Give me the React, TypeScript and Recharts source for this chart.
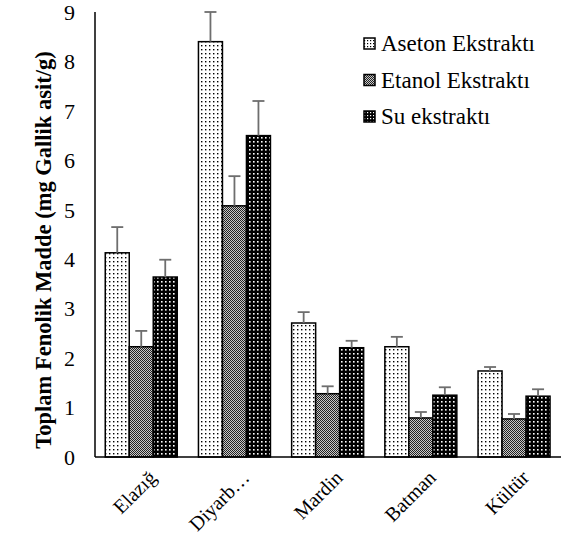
import React from 'react';
import { BarChart, Bar, XAxis, YAxis } from 'recharts';

const categories = ['Elazığ', 'Diyarb…', 'Mardin', 'Batman', 'Kültür'];
const aseton = [4.13, 8.4, 2.71, 2.23, 1.74];
const asetonErr = [0.52, 0.6, 0.22, 0.2, 0.08];
const etanol = [2.23, 5.08, 1.28, 0.79, 0.77];
const etanolErr = [0.32, 0.6, 0.15, 0.12, 0.1];
const su = [3.64, 6.5, 2.21, 1.25, 1.23];
const suErr = [0.35, 0.7, 0.14, 0.16, 0.14];
const yTicks = [0, 1, 2, 3, 4, 5, 6, 7, 8, 9];

const seriesNames = ['Aseton Ekstraktı', 'Etanol Ekstraktı', 'Su ekstraktı'];
const patternIds = ['patAseton', 'patEtanol', 'patSu'];
const legendFills = ['legAseton', 'legEtanol', 'legSu'];

const data = categories.map((c, i) => ({
  name: c,
  aseton: aseton[i],
  asetonErr: asetonErr[i],
  etanol: etanol[i],
  etanolErr: etanolErr[i],
  su: su[i],
  suErr: suErr[i],
}));

const FONT = 'Liberation Serif, Times New Roman, serif';

const makeShape = (errKey: string, valKey: string, patId: string) => (props: any) => {
  const { x, y, width, height, payload } = props;
  const val = payload[valKey];
  const err = payload[errKey];
  const pxPerUnit = val ? height / val : 0;
  const errPx = err * pxPerUnit;
  const cx = x + width / 2;
  return (
    <g>
      <rect x={x} y={y} width={width} height={height} fill={`url(#${patId})`} stroke="#000" strokeWidth={1.5} />
      <line x1={cx} y1={y} x2={cx} y2={y - errPx} stroke="#6e6e6e" strokeWidth={1.8} />
      <line x1={cx - 6} y1={y - errPx} x2={cx + 6} y2={y - errPx} stroke="#6e6e6e" strokeWidth={1.8} />
    </g>
  );
};

const LegendOverlay = () => (
  <svg width={562} height={540} style={{ position: 'absolute', left: 0, top: 0, pointerEvents: 'none' }}>
    <defs>
      <pattern id="legAseton" width="3" height="3" patternUnits="userSpaceOnUse">
        <rect width="3" height="3" fill="#fff" />
        <rect x="1" y="1" width="1.2" height="1.2" fill="#000" />
      </pattern>
      <pattern id="legEtanol" width="2" height="2" patternUnits="userSpaceOnUse">
        <rect width="2" height="2" fill="#c8c8c8" />
        <rect x="0" y="0" width="1" height="1" fill="#222" />
        <rect x="1" y="1" width="1" height="1" fill="#222" />
      </pattern>
      <pattern id="legSu" width="3" height="3" patternUnits="userSpaceOnUse">
        <rect width="3" height="3" fill="#000" />
        <rect x="1" y="1" width="1.2" height="1.2" fill="#fff" />
      </pattern>
    </defs>
    {seriesNames.map((n, i) => {
      const base = 51 + i * 36.5;
      return (
        <g key={n}>
          <rect x={364} y={base - 13} width={11} height={11} fill={`url(#${legendFills[i]})`} stroke="#000" strokeWidth={1.5} />
          <text x={381} y={base} fontFamily={FONT} fontSize={23} fill="#000">{n}</text>
        </g>
      );
    })}
  </svg>
);

const XTick = (props: any) => {
  const { x, y, payload } = props;
  return (
    <g transform={`translate(${x + 6},${y + 4})`}>
      <text transform="rotate(-45)" textAnchor="end" dy={14} fontFamily={FONT} fontSize={20} fill="#000">
        {payload.value}
      </text>
    </g>
  );
};

const YLabel = () => (
  <text
    x={51}
    y={250}
    transform="rotate(-90, 51, 250)"
    textAnchor="middle"
    fontFamily={FONT}
    fontSize={22.5}
    fontWeight="bold"
    fill="#000"
  >
    Toplam Fenolik Madde (mg Gallik asit/g)
  </text>
);

export default function App() {
  return (
    <div style={{ position: 'absolute', left: 0, top: 0, width: 562, height: 540 }}>
      <BarChart
        width={562}
        height={540}
        data={data}
        margin={{ top: 12, right: 1, bottom: 0, left: 0 }}
        barCategoryGap="11%"
        barGap={0}
      >
        <defs>
          <pattern id="patAseton" width="4" height="4" patternUnits="userSpaceOnUse">
            <rect width="4" height="4" fill="#ffffff" />
            <rect x="1" y="1" width="1.4" height="1.4" fill="#000" />
          </pattern>
          <pattern id="patEtanol" width="2" height="2" patternUnits="userSpaceOnUse">
            <rect width="2" height="2" fill="#c8c8c8" />
            <rect x="0" y="0" width="1" height="1" fill="#222" />
            <rect x="1" y="1" width="1" height="1" fill="#222" />
          </pattern>
          <pattern id="patSu" width="4" height="4" patternUnits="userSpaceOnUse">
            <rect width="4" height="4" fill="#000" />
            <rect x="1" y="1" width="1.6" height="1.6" fill="#fff" />
          </pattern>
        </defs>
        <YLabel />
        <XAxis
          dataKey="name"
          axisLine={{ stroke: '#000', strokeWidth: 1.5 }}
          tickLine={false}
          tick={<XTick />}
          interval={0}
          height={83}
        />
        <YAxis
          width={95}
          domain={[0, 9]}
          ticks={yTicks}
          interval={0}
          axisLine={{ stroke: '#000', strokeWidth: 1.5 }}
          tickLine={false}
          tickSize={0}
          tickMargin={20}
          tick={{ fontFamily: FONT, fontSize: 22, fill: '#000' }}
        />
        <Bar dataKey="aseton" name={seriesNames[0]} isAnimationActive={false} shape={makeShape('asetonErr', 'aseton', patternIds[0])} />
        <Bar dataKey="etanol" name={seriesNames[1]} isAnimationActive={false} shape={makeShape('etanolErr', 'etanol', patternIds[1])} />
        <Bar dataKey="su" name={seriesNames[2]} isAnimationActive={false} shape={makeShape('suErr', 'su', patternIds[2])} />
      </BarChart>
      <LegendOverlay />
    </div>
  );
}
